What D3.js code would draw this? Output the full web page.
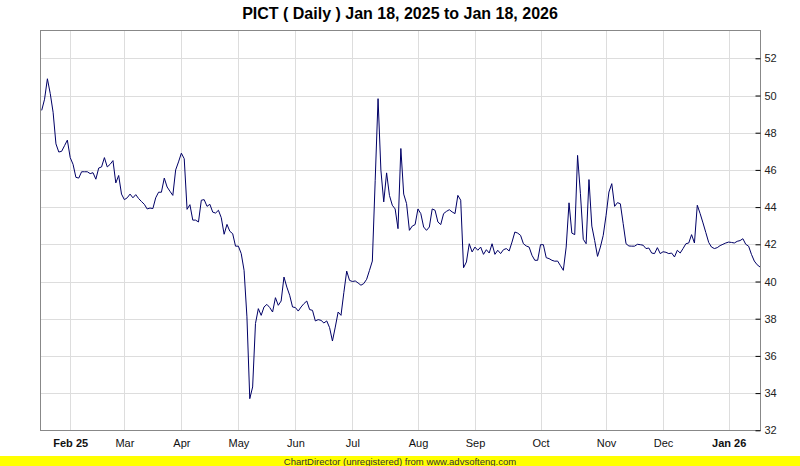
<!DOCTYPE html>
<html><head><meta charset="utf-8">
<script src="https://cdn.jsdelivr.net/npm/d3@7"></script>
<style>body{margin:0;background:#fff;} svg{display:block;font-family:"Liberation Sans",Arial,sans-serif;}</style>
</head><body><svg id="c" width="800" height="466"></svg>
<script>
const title = "PICT ( Daily ) Jan 18, 2025 to Jan 18, 2026";
const footer = "ChartDirector (unregistered) from www.advsofteng.com";
// daily closing prices, Jan 17 2025 .. Jan 16 2026 (one per trading day)
const closes = [
49.2,49.8,50.9,50.1,49.1,47.4,46.96,47.0,47.3,47.6,
46.66,46.3,45.6,45.56,45.9,45.9,45.9,45.8,45.85,45.5,
46.1,46.16,46.66,46.16,46.3,46.5,45.3,45.7,44.7,44.4,
44.5,44.7,44.5,44.67,44.46,44.3,44.15,43.9,43.95,43.92,
44.5,44.8,44.8,45.56,45.08,44.85,44.63,46.0,46.43,46.9,
46.6,43.88,44.13,43.3,43.3,43.2,44.37,44.4,44.04,44.15,
43.73,43.68,43.83,43.43,42.54,43.07,42.7,42.57,41.9,41.9,
41.5,40.6,38.1,33.7,34.33,37.74,38.54,38.18,38.63,38.77,
38.6,38.36,39.13,38.72,38.95,40.24,39.7,39.26,38.63,38.6,
38.41,38.63,38.81,38.95,38.49,38.45,37.88,37.95,37.91,37.77,
37.88,37.52,36.8,37.55,38.36,38.18,39.4,40.56,40.06,40.0,
40.03,39.92,39.8,39.89,40.12,40.6,41.1,45.44,49.83,45.98,
44.28,45.84,44.63,44.1,43.9,42.84,47.15,44.7,44.19,42.75,
42.98,43.06,43.9,43.65,42.93,42.75,42.93,43.9,43.83,43.2,
43.06,43.65,43.77,43.86,43.74,43.65,44.63,44.37,40.74,41.05,
42.03,41.59,41.85,41.68,41.85,41.46,41.71,41.53,42.03,41.46,
41.68,41.5,41.71,41.77,41.64,42.12,42.66,42.6,42.48,42.03,
41.91,41.85,41.41,41.14,41.14,41.98,41.98,41.28,41.23,41.14,
41.09,41.1,40.85,40.6,41.85,44.23,42.6,42.52,46.78,44.72,
42.27,42.03,45.48,42.98,42.2,41.35,41.85,42.48,43.56,44.81,
45.26,44.04,44.24,44.18,43.11,42.03,41.91,41.9,41.9,42.0,
41.98,41.95,41.77,41.8,41.53,41.5,41.82,41.5,41.6,41.57,
41.5,41.53,41.32,41.68,41.53,41.77,42.03,42.07,42.52,42.07,
44.1,43.65,43.15,42.63,42.1,41.85,41.77,41.82,41.93,42.0,
42.07,42.12,42.1,42.07,42.16,42.2,42.3,42.0,41.9,41.46,
41.1,40.9,40.78
];
// first trading day of each month (index into closes) and its label
const monthIndex = [10,29,49,69,89,109,132,152,175,198,218,241];
const monthLabels = ["Feb 25","Mar","Apr","May","Jun","Jul","Aug","Sep","Oct","Nov","Dec","Jan 26"];
const monthBold = [true,false,false,false,false,false,false,false,false,false,false,true];
const yTicks = [32,34,36,38,40,42,44,46,48,50,52];

const svg = d3.select("#c");
const L = 40, R = 760, T = 30, B = 430;
const x = d3.scaleLinear().domain([0, closes.length - 1]).range([41.7, 760]);
const y = d3.scaleLinear().domain([32, 52]).range([430.3, 58.3]);
const cr = v => Math.round(v) + 0.5;

svg.append("rect").attr("width", 800).attr("height", 466).attr("fill", "#fff");

// grid
const g = svg.append("g");
g.selectAll(".hg").data(yTicks).join("line")
  .attr("x1", L).attr("x2", R)
  .attr("y1", d => cr(y(d))).attr("y2", d => cr(y(d)))
  .attr("stroke", "#dddddd");
g.selectAll(".vg").data(monthIndex).join("line")
  .attr("x1", d => cr(x(d))).attr("x2", d => cr(x(d)))
  .attr("y1", T).attr("y2", B)
  .attr("stroke", "#dddddd");

// plot border
svg.append("rect").attr("x", L + 0.5).attr("y", T + 0.5)
  .attr("width", R - L).attr("height", B - T)
  .attr("fill", "none").attr("stroke", "#888");

// right axis
const yAxis = d3.axisRight(y).tickValues(yTicks).tickSize(-5).tickPadding(8).tickFormat(d3.format("d"));
const ya = svg.append("g").attr("transform", `translate(${R + 0.5},0)`).call(yAxis);
ya.select(".domain").attr("stroke", "#888").attr("d", `M0,${T}V${B + 1}`);
ya.selectAll(".tick line").attr("stroke", "#000");
ya.selectAll(".tick text").attr("font-size", 11).attr("fill", "#222")
  .attr("font-family", '"Liberation Sans",Arial,sans-serif').attr("x", 4);

// bottom axis labels
const xAxis = d3.axisBottom(x).tickValues(monthIndex).tickSize(0).tickPadding(9)
  .tickFormat((d, i) => monthLabels[i]);
const xa = svg.append("g").attr("transform", `translate(0,${B})`).call(xAxis);
xa.select(".domain").remove();
xa.selectAll(".tick text").attr("font-size", 11).attr("fill", "#111")
  .attr("font-family", '"Liberation Sans",Arial,sans-serif')
  .attr("font-weight", (d, i) => monthBold[i] ? "bold" : "normal");

// price line
const line = d3.line().x((d, i) => x(i)).y(d => y(d));
svg.append("path").datum(closes).attr("d", line)
  .attr("fill", "none").attr("stroke", "#000066").attr("stroke-width", 1);

// title
svg.append("text").attr("x", 400).attr("y", 19).attr("text-anchor", "middle")
  .attr("font-size", 16).attr("font-weight", "bold").attr("fill", "#000").text(title);

// footer
svg.append("rect").attr("x", 0).attr("y", 456).attr("width", 800).attr("height", 10).attr("fill", "#ffff00");
svg.append("text").attr("x", 400).attr("y", 464.5).attr("text-anchor", "middle")
  .attr("font-size", 9.5).attr("fill", "#333").text(footer);
</script></body></html>
